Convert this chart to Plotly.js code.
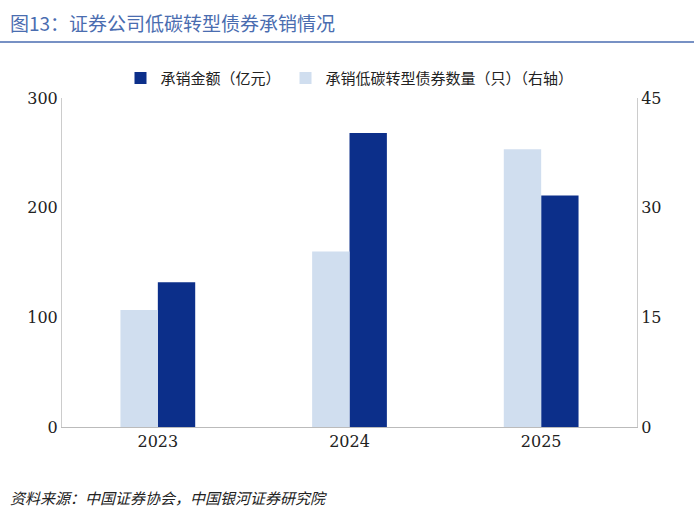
<!DOCTYPE html>
<html><head><meta charset="utf-8">
<script src="https://cdn.plot.ly/plotly-3.0.1.min.js"></script>
<style>body{margin:0}</style></head>
<body><div id="chart" style="width:694px;height:514px"></div>
<script>
const years = ['2023', '2024', '2025']
const amount = [132, 268, 211]      // 承销金额（亿元）
const count = [16, 24, 38]          // 承销低碳转型债券数量（只）

const cjk = '"Noto Sans CJK SC", sans-serif'
const serif = '"DejaVu Serif", "Liberation Serif", serif'

// light bars first so they sit on the left of each group
const data = [
  {
    x: years, y: count, type: 'bar', name: '承销低碳转型债券数量（只）（右轴）',
    marker: {color: '#d0deef'}, offsetgroup: '1', yaxis: 'y2'
  },
  {
    x: years, y: amount, type: 'bar', name: '承销金额（亿元）',
    marker: {color: '#0c2f8a'}, offsetgroup: '2', yaxis: 'y'
  }
]

const layout = {
  width: 694, height: 514,
  margin: {l: 62, r: 57, t: 98, b: 87},
  barmode: 'group', bargap: 0.61, bargroupgap: 0,
  showlegend: true,
  legend: {orientation: 'h', x: 0.5, xanchor: 'center', y: 1.06, yanchor: 'middle',
           traceorder: 'reversed', font: {family: cjk, size: 15, color: '#222'}},
  xaxis: {type: 'category', tickfont: {family: serif, size: 16, color: '#222'}, showline: true,
          linecolor: '#bbb', ticks: ''},
  yaxis: {range: [0, 300], tickvals: [0, 100, 200, 300], showgrid: false, zeroline: false,
          showline: true, linecolor: '#ccc', tickfont: {family: serif, size: 16, color: '#222'}},
  yaxis2: {range: [0, 45], tickvals: [0, 15, 30, 45], overlaying: 'y', side: 'right',
           showgrid: false, zeroline: false, showline: true, linecolor: '#ccc',
           tickfont: {family: serif, size: 16, color: '#222'}},
  paper_bgcolor: '#fff', plot_bgcolor: '#fff',
  annotations: [
    {text: '图13：证券公司低碳转型债券承销情况', xref: 'paper', yref: 'paper', x: -0.094, y: 1.231,
     xanchor: 'left', yanchor: 'middle', showarrow: false, font: {family: cjk, size: 19, color: '#4a6db0'}},
    {text: '<i>资料来源：中国证券协会，中国银河证券研究院</i>', xref: 'paper', yref: 'paper',
     x: -0.094, y: -0.213, xanchor: 'left', yanchor: 'middle', showarrow: false,
     font: {family: cjk, size: 15, color: '#222'}}
  ],
  shapes: [
    {type: 'line', xref: 'paper', yref: 'paper', x0: -0.11, x1: 1.1, y0: 1.17, y1: 1.17,
     line: {color: '#4a6db0', width: 1.5}}
  ]
}

Plotly.newPlot('chart', data, layout, {displayModeBar: false})
</script></body></html>
